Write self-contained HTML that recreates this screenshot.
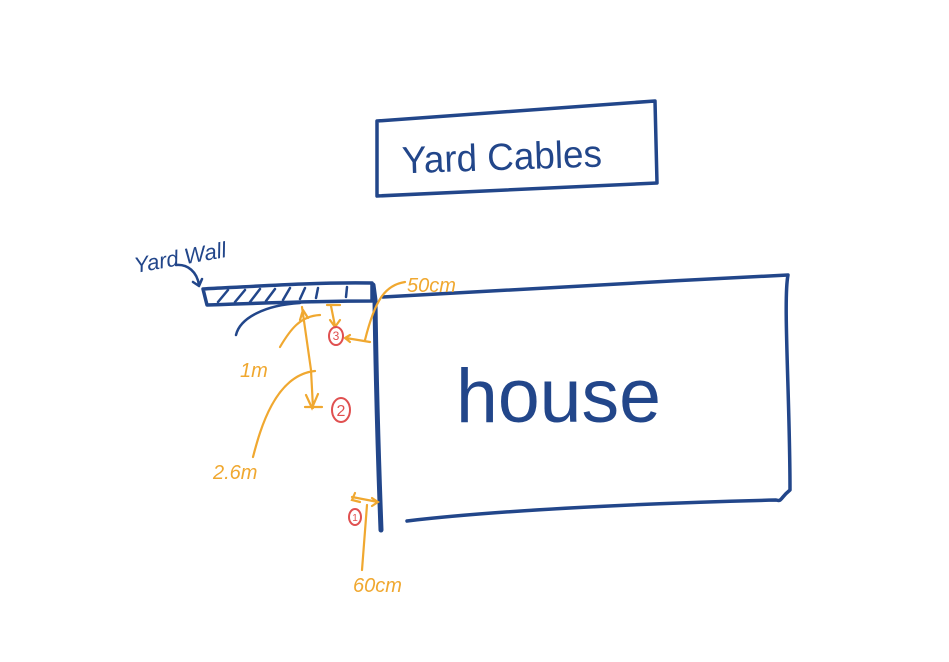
<!DOCTYPE html>
<html><head><meta charset="utf-8"><style>
html,body{margin:0;padding:0;background:#fff;width:949px;height:662px;overflow:hidden}
svg{display:block}
text{font-family:"Liberation Sans",sans-serif}
</style></head><body>
<svg width="949" height="662" viewBox="0 0 949 662">
<g fill="none" stroke="#22468a" stroke-width="3.5" stroke-linecap="round" stroke-linejoin="round">
  <path d="M377 121 L655 101 L657 183 L377 196 Z"/>
  <path d="M383 297 C500 290 650 282 788 275 C783 300 790 400 790 490 C780 498 782 502 776 500 C650 503 500 510 407 521"/>
  <path stroke-width="5" d="M373 285 L375 300 C376 380 378 450 381 530"/>
  <path d="M203 289 C260 286 320 282 372 283 L372 301 C320 301 260 303 207 305 Z"/>
  <path stroke-width="2.5" d="M218 302 L228 290 M235 302 L245 290 M250 302 L260 289 M266 301 L275 289 M283 300 L290 288 M300 299 L305 288 M316 298 L318 288 M346 297 L347 287"/>
  <path stroke-width="2.5" d="M236 335 C240 318 265 305 300 303"/>
  <path stroke-width="2.5" d="M176 265 C188 264 197 272 199 285 M193 282 L199 286 L202 279"/>
</g>
<g fill="#22468a">
  <text x="402" y="170" font-size="38" textLength="200" lengthAdjust="spacingAndGlyphs" transform="rotate(-2 500 160)">Yard Cables</text>
  <text x="456" y="422" font-size="76" textLength="205" lengthAdjust="spacingAndGlyphs">house</text>
  <text x="133" y="265" font-size="22" font-style="italic" transform="rotate(-10 180 255)">Yard Wall</text>
</g>
<g fill="none" stroke="#f0a830" stroke-width="2.2" stroke-linecap="round">
  <path d="M302 307 L311 370 L313 408 M305 407 L322 407 M306 395 L312 408 L318 394 M303 310 L300 320 M303 310 L308 318"/>
  <path d="M331 306 L335 326 M327 305 L340 305 M330 320 L335 327 L340 320"/>
  <path d="M346 338 L370 342 M350 335 L345 338 L350 342"/>
  <path d="M280 347 C290 330 300 316 320 315"/>
  <path d="M253 457 C260 430 275 375 315 371"/>
  <path d="M405 282 C385 285 375 300 365 340"/>
  <path d="M352 497 L378 502 M355 493 L352 500 L360 502 M372 498 L378 502 L372 506 M367 505 L362 570"/>
</g>
<g fill="#f0a830" font-size="20" font-style="italic">
  <text x="407" y="292">50cm</text>
  <text x="240" y="377">1m</text>
  <text x="213" y="479">2.6m</text>
  <text x="353" y="592">60cm</text>
</g>
<g fill="none" stroke="#e05050" stroke-width="2">
  <ellipse cx="336" cy="336" rx="7" ry="9"/>
  <ellipse cx="341" cy="410" rx="9" ry="12"/>
  <ellipse cx="355" cy="517" rx="6" ry="8"/>
</g>
<g fill="#e05050" font-size="12" text-anchor="middle">
  <text x="336" y="340">3</text>
  <text x="341" y="416" font-size="16">2</text>
  <text x="355" y="521" font-size="10">1</text>
</g>
</svg>
</body></html>
